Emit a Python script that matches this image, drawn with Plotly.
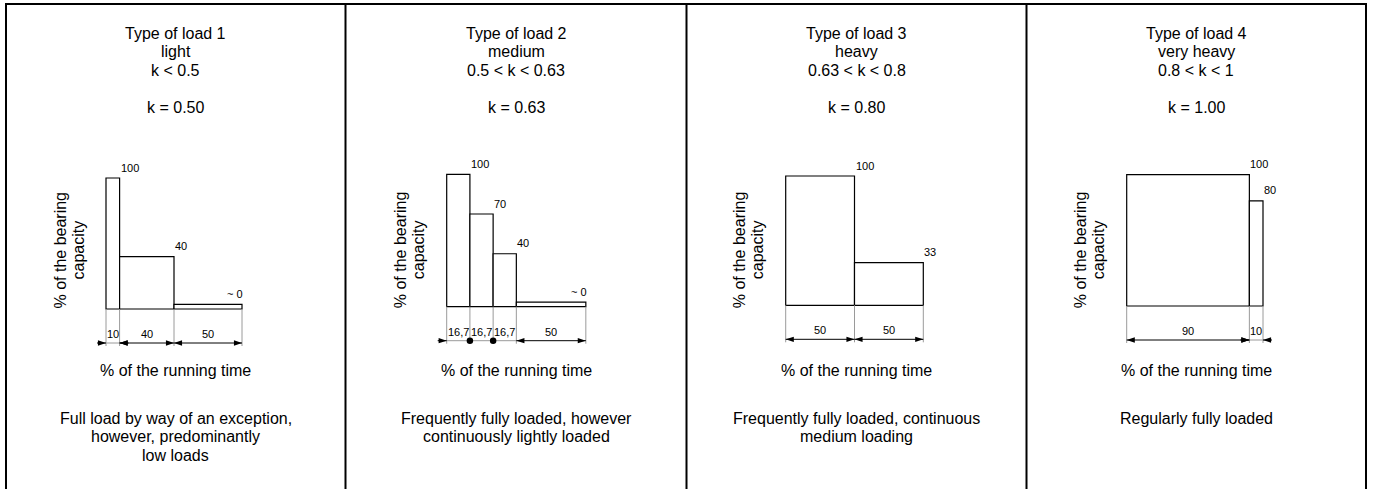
import numpy as np
import plotly.graph_objects as go

W, H = 1373, 489

# ---------------- data ----------------
titles = ["Type of load 1", "Type of load 2", "Type of load 3", "Type of load 4"]
classes = ["light", "medium", "heavy", "very heavy"]
k_ranges = ["k < 0.5", "0.5 < k < 0.63", "0.63 < k < 0.8", "0.8 < k < 1"]
k_values = ["k = 0.50", "k = 0.63", "k = 0.80", "k = 1.00"]
descriptions = [
    ["Full load by way of an exception,", "however, predominantly", "low loads"],
    ["Frequently fully loaded, however", "continuously lightly loaded"],
    ["Frequently fully loaded, continuous", "medium loading"],
    ["Regularly fully loaded"],
]
time_shares = [[10, 40, 50], [16.7, 16.7, 16.7, 50], [50, 50], [90, 10]]
time_labels = [["10", "40", "50"], ["16,7", "16,7", "16,7", "50"], ["50", "50"], ["90", "10"]]
loads = [[100, 40, 3.5], [100, 70, 40, 3.5], [100, 33], [100, 80]]
load_labels = [["100", "40", "~ 0"], ["100", "70", "40", "~ 0"], ["100", "33"], ["100", "80"]]
y_title = ["% of the bearing", "capacity"]
x_title = "% of the running time"

# ---------------- layout (pixels) ----------------
dividers = [6, 345.5, 686.5, 1026.5, 1366]
top_px = 4
bar_x0 = [106, 446.7, 785.7, 1126.7]
bar_span = [136, 139, 137.6, 136.3]     # px for 100 % of running time
base_px = [309, 306.7, 305.3, 306]
full_px = [131, 132.4, 129.3, 131.3]    # px for 100 % load
dim_style = [["out", "in", "in"], ["chain", "chain", "chain", "in"], ["in", "in"], ["in", "out"]]

FONT = "Liberation Sans, Arial, sans-serif"
GRAY = "#9a9a9a"

fig = go.Figure()
annotations = []
shapes = []
axes = {}


def px(x):
    return x / W


def py(y):
    return 1 - y / H


def text(x, y, s, size=16, angle=0):
    annotations.append(dict(x=px(x), y=py(y), xref="paper", yref="paper", text=s,
                            showarrow=False, xanchor="center", yanchor="middle",
                            textangle=angle, font=dict(family=FONT, size=size, color="black")))


for i in range(4):
    n = i + 1
    xa = "x" if n == 1 else f"x{n}"
    ya = "y" if n == 1 else f"y{n}"
    sx = bar_span[i] / 100.0
    sy = full_px[i] / 100.0
    xkey = "xaxis" if n == 1 else f"xaxis{n}"
    ykey = "yaxis" if n == 1 else f"yaxis{n}"
    axes[xkey] = dict(range=[-bar_x0[i] / sx, (W - bar_x0[i]) / sx], domain=[0, 1],
                      visible=False, fixedrange=True, anchor=ya)
    axes[ykey] = dict(range=[-(H - base_px[i]) / sy, base_px[i] / sy], domain=[0, 1],
                      visible=False, fixedrange=True, anchor=xa)
    if n > 1:
        axes[xkey]["overlaying"] = "x"
        axes[ykey]["overlaying"] = "y"

    w = np.array(time_shares[i], dtype=float)
    edges = np.concatenate([[0.0], np.cumsum(w)])
    centers = edges[:-1] + w / 2

    # bars
    fig.add_trace(go.Bar(x=centers, y=loads[i], width=w, xaxis=xa, yaxis=ya,
                         marker=dict(color="white", line=dict(color="black", width=1.2)),
                         showlegend=False, hoverinfo="skip"))

    # extension lines
    ext = 37 / sy
    ex, ey = [], []
    for e in edges:
        ex += [e, e, None]
        ey += [0, -ext, None]
    fig.add_trace(go.Scatter(x=ex, y=ey, mode="lines", xaxis=xa, yaxis=ya,
                             line=dict(color=GRAY, width=1), showlegend=False, hoverinfo="skip"))

    # dimension lines
    yd = -34 / sy
    stub = 9 / sx
    bx, by, gx, gy = [], [], [], []
    ax_, aang, dx = [], [], []
    st = dim_style[i]
    for j in range(len(w)):
        a, b = edges[j], edges[j + 1]
        s = st[j]
        if s == "in":
            bx += [a, b, None]; by += [yd, yd, None]
            ax_ += [a, b]; aang += [-90, 90]
        elif s == "out":
            gx += [a, b, None]; gy += [yd, yd, None]
            bx += [a - stub, a, None, b, b + stub, None]; by += [yd, yd, None, yd, yd, None]
            ax_ += [a, b]; aang += [90, -90]
        elif s == "chain":
            gx += [a, b, None]; gy += [yd, yd, None]
            if j == 0 or st[j - 1] != "chain":
                bx += [a - stub, a, None]; by += [yd, yd, None]
                ax_ += [a]; aang += [90]
            if j + 1 < len(st) and st[j + 1] == "chain":
                dx.append(b)
    fig.add_trace(go.Scatter(x=gx, y=gy, mode="lines", xaxis=xa, yaxis=ya,
                             line=dict(color=GRAY, width=1), showlegend=False, hoverinfo="skip"))
    fig.add_trace(go.Scatter(x=bx, y=by, mode="lines", xaxis=xa, yaxis=ya,
                             line=dict(color="black", width=1), showlegend=False, hoverinfo="skip"))
    fig.add_trace(go.Scatter(x=ax_, y=[yd] * len(ax_), mode="markers", xaxis=xa, yaxis=ya,
                             marker=dict(symbol="arrow", angle=aang, size=8.5, color="black"),
                             showlegend=False, hoverinfo="skip"))
    if dx:
        fig.add_trace(go.Scatter(x=dx, y=[yd] * len(dx), mode="markers", xaxis=xa, yaxis=ya,
                                 marker=dict(symbol="circle", size=6.5, color="black"),
                                 showlegend=False, hoverinfo="skip"))

    # value labels
    for j, (v, lab) in enumerate(zip(loads[i], load_labels[i])):
        right = lab.startswith("~")
        annotations.append(dict(x=edges[j + 1], y=v, xref=xa, yref=ya, text=lab, showarrow=False,
                                xanchor="right" if right else "left", yanchor="middle",
                                xshift=3 if right else -1, yshift=10.5,
                                font=dict(family=FONT, size=11, color="black")))
    # time labels
    for c, lab in zip(centers, time_labels[i]):
        annotations.append(dict(x=c, y=-25 / sy, xref=xa, yref=ya, text=lab, showarrow=False,
                                xanchor="center", yanchor="middle",
                                font=dict(family=FONT, size=11, color="black")))

    # panel texts
    cx = (dividers[i] + dividers[i + 1]) / 2
    text(cx, 33, titles[i])
    text(cx, 51.5, classes[i])
    text(cx, 70, k_ranges[i])
    text(cx, 107, k_values[i])
    text(bar_x0[i] - 46.5, 250, y_title[0], angle=-90)
    text(bar_x0[i] - 28.5, 250, y_title[1], angle=-90)
    text(cx, 370, x_title)
    for k, line in enumerate(descriptions[i]):
        text(cx, 418 + 18.5 * k, line)

# frame
shapes.append(dict(type="line", xref="paper", yref="paper", x0=px(dividers[0] - 1), x1=px(dividers[-1] + 1),
                   y0=py(top_px), y1=py(top_px), line=dict(color="black", width=2)))
for d in dividers:
    shapes.append(dict(type="line", xref="paper", yref="paper", x0=px(d), x1=px(d),
                       y0=py(top_px - 1), y1=py(H + 2), line=dict(color="black", width=2)))

fig.update_layout(width=W, height=H, margin=dict(l=0, r=0, t=0, b=0, pad=0),
                  paper_bgcolor="white", plot_bgcolor="rgba(0,0,0,0)",
                  showlegend=False, annotations=annotations, shapes=shapes,
                  font=dict(family=FONT, color="black"), **axes)

fig.write_html("out.html", config={"displayModeBar": False, "staticPlot": True},
               post_script="document.body.style.margin='0';document.body.style.overflow='hidden';")
